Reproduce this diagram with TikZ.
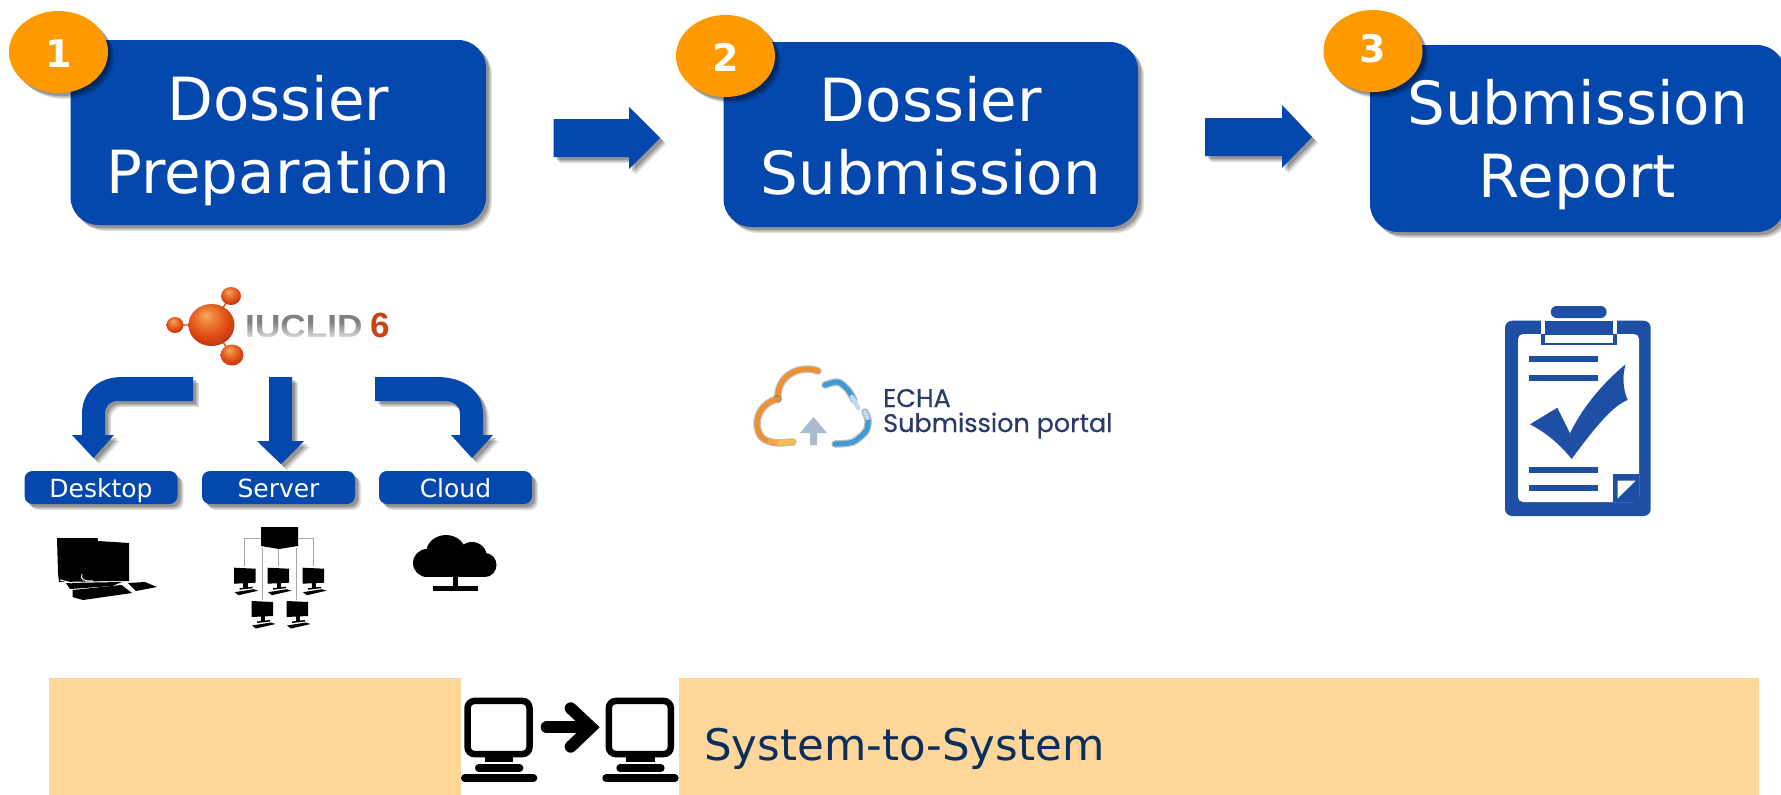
\documentclass[tikz,border=0pt]{standalone}
\usepackage{fontspec}
\setmainfont{DejaVu Sans}
\newfontfamily\logofont{Liberation Sans}
\newfontfamily\echafont[FakeBold=0.4]{Poppins}
\usetikzlibrary{shapes.geometric,shadows,fadings}
\definecolor{echablue}{HTML}{0447AD}
\definecolor{badge}{HTML}{FF9900}
\definecolor{bandcol}{HTML}{FFD699}
\definecolor{navy}{HTML}{0A2F5C}
\definecolor{clipblue}{HTML}{1E4FA4}
\definecolor{portaltext}{HTML}{2B3A6B}
\definecolor{cloudorange}{HTML}{F08F2E}
\definecolor{cloudyellow}{HTML}{F7BE4E}
\definecolor{cloudblue}{HTML}{3E9BD8}
\definecolor{cloudpale}{HTML}{BBDCF2}
\definecolor{cloudarrow}{HTML}{A9BBCF}
\definecolor{orbA}{HTML}{F5A868}
\definecolor{orbB}{HTML}{EC7A30}
\definecolor{orbC}{HTML}{DC4A14}
\definecolor{orbD}{HTML}{B42A0C}
\definecolor{orbE}{HTML}{A01E08}
\definecolor{sixred}{HTML}{CC4416}
\pgfdeclareradialshading{orb}{\pgfpoint{-6bp}{12bp}}{%
  color(0bp)=(orbA);
  color(10bp)=(orbB);
  color(22bp)=(orbC);
  color(36bp)=(orbD);
  color(50bp)=(orbE);
  color(64bp)=(orbC)}
\tikzset{
  softshadow/.style={
    drop shadow={shadow xshift=6pt,shadow yshift=-6pt,opacity=.12,fill=black},
    drop shadow={shadow xshift=4.5pt,shadow yshift=-4.5pt,opacity=.16,fill=black},
    drop shadow={shadow xshift=3pt,shadow yshift=-3pt,opacity=.2,fill=black}},
  stagebox/.style={draw=none,fill=echablue,text=white,rounded corners=28pt,inner sep=0pt,outer sep=0pt,
    align=center,font=\fontsize{59.5}{73}\selectfont,softshadow},
  smallbox/.style={draw=none,fill=echablue,text=white,rounded corners=8pt,inner sep=0pt,outer sep=0pt,
    minimum width=153pt,minimum height=33pt,text height=24pt,text depth=5pt,font=\fontsize{25}{30}\selectfont,softshadow},
  numbadge/.style={ellipse,draw=none,fill=badge,text=white,inner sep=0pt,outer sep=0pt,
    minimum width=99pt,minimum height=82pt,softshadow},
  numtext/.style={text=white,inner sep=0pt,font=\fontsize{38}{38}\selectfont\bfseries},
  blockarrow/.style={fill=echablue,draw=none,softshadow},
  sphere/.style={ellipse,draw=none,shading=orb,inner sep=0pt,outer sep=0pt},
  pcicon/.style={draw=black,line width=6.5pt,fill=white,rounded corners=7pt},
  pill/.style={draw=black,line width=7.5pt,line cap=round},
  clipfill/.style={fill=clipblue,draw=none},
  whitefill/.style={fill=white,draw=none},
  minipc/.pic={
    \fill[black] (-10.5,0) -- (11,1) -- (11,15) -- (-10.5,16) -- cycle;
    \fill[black] (-1.5,15) rectangle (3,20);
    \fill[black] (-5,20.5) -- (8,19) -- (8,20.5) -- (-5,22) -- cycle;
    \fill[black] (-10,24.5) -- (9,21.5) -- (13.5,23) -- (-6,27.5) -- cycle;
  },
  deskpc/.pic={
    \draw[pcicon] (3.25,3.25) rectangle (65.2,56.35);
    \fill[black] (20.7,59) rectangle (49,64.5);
    \draw[pill] (14.45,70.3) -- (55.25,70.3);
    \draw[pill] (0.45,80.45) -- (69.25,80.45);
  }
}
\begin{document}
\begin{tikzpicture}[x=1pt,y=-1pt]
\useasboundingbox (0,0) rectangle (1781,795);
\clip (0,0) rectangle (1781,795);
\fill[white] (0,0) rectangle (1781,795);

% stage boxes
\node[stagebox,minimum width=415.5pt,minimum height=185pt] (prep) at (278.25,132.5) {\rule{0pt}{62pt}Dossier\\Preparation};
\node[stagebox,minimum width=414.5pt,minimum height=185pt] (subm) at (930.75,134.5) {\rule{0pt}{47pt}Dossier\\Submission};
\node[stagebox,minimum width=415pt,minimum height=187pt] (rep) at (1577.5,138.5) {\rule{0pt}{58pt}Submission\\Report};

% numbered badges
\node[numbadge] (b1) at (58.5,52) {};
\node[numbadge] (b2) at (725.5,56) {};
\node[numbadge] (b3) at (1373,51) {};
\node[numtext] (n1) at (59,54) {1};
\node[numtext] (n2) at (726,57) {2};
\node[numtext] (n3) at (1373,49) {3};

% block arrows between stages
\path[blockarrow] (553.5,119) -- (629,119) -- (629,107) -- (660,138) -- (629,169) -- (629,157) -- (553.5,157) -- cycle;
\path[blockarrow] (1205,118) -- (1282,118) -- (1282,105) -- (1312,137) -- (1282,168) -- (1282,156) -- (1205,156) -- cycle;

% IUCLID logo
\draw[orbC,line width=1.4pt] (175,325) -- (211,325) (231,296) -- (211,325) -- (232,355);
\node[sphere,minimum width=46pt,minimum height=42pt] (orb0) at (211.5,325) {};
\node[sphere,minimum width=20pt,minimum height=18pt] (orb1) at (231,296) {};
\node[sphere,minimum width=17pt,minimum height=16pt] (orb2) at (175,325) {};
\node[sphere,minimum width=23pt,minimum height=21pt] (orb3) at (232,355) {};
\node[anchor=base west,inner sep=0pt,text=gray,font=\logofont\bfseries\fontsize{32}{32}\selectfont,xscale=1.1] (iuclid) at (245,337) {IUCLID};
\fill[white,opacity=.75,path fading=north] (244,322) rectangle (366,338);
\node[anchor=base west,inner sep=0pt,text=sixred,font=\logofont\bfseries\fontsize{35}{35}\selectfont] (six) at (370.5,337.5) {6};

% deployment arrows
\path[blockarrow] (193,377) -- (122,377) .. controls (98,377) and (82,392) .. (82,414) -- (82,435) -- (72,435) -- (93.5,458) -- (114,435) -- (105,435) -- (105,414) .. controls (105,406) and (110,401) .. (118,401) -- (193,401) -- cycle;
\path[blockarrow] (269,377) -- (292,377) -- (292,441) -- (304,441) -- (281,464) -- (257,441) -- (269,441) -- cycle;
\path[blockarrow] (375,377) -- (437,377) .. controls (465,377) and (483,392) .. (483,414) -- (483,435) -- (493,435) -- (472,458) -- (451,435) -- (460,435) -- (460,414) .. controls (460,406) and (454,401) .. (445,401) -- (375,401) -- cycle;

% deployment labels
\node[smallbox] (desk) at (101,487.5) {Desktop};
\node[smallbox] (serv) at (278.5,487.5) {Server};
\node[smallbox] (clou) at (455.5,487.5) {Cloud};

% desktop icon
\fill[black] (57,538) -- (97.5,538) -- (98,541) -- (129,543) -- (129,581) -- (112,581) -- (59,582) -- (58,573) -- cycle;
\fill[black] (72.5,590) -- (121.5,585) -- (132,593) -- (83,600) -- (72.5,597) -- cycle;
\fill[black] (128,583) -- (145,582) -- (157,587) -- (136,591) -- cycle;
\fill[black] (66,583) -- (122,582) -- (112,586) -- (70,589) -- cycle;
\draw[white,line width=1pt] (60,580) -- (72,583) (82,574) .. controls (80,580) and (84,581) .. (93,581);

% server icon
\draw[gray!70,line width=1pt] (261,538) -- (244,538) -- (244,566) (298,538) -- (313.5,538) -- (313.5,566)
  (278,548) -- (278,566) (262,548) -- (262,600) (296.5,548) -- (296.5,600);
\fill[black] (261,527) -- (298,527) -- (298,546) -- (279,549) -- (261,546) -- cycle;
\pic at (244.6,567.7) {minipc};
\pic at (278,567.7) {minipc};
\pic at (313,567.7) {minipc};
\pic at (262,601) {minipc};
\pic at (297,601) {minipc};

% cloud icon
\fill[black] (427,563) circle [x radius=14,y radius=14];
\fill[black] (446,553) circle [x radius=20,y radius=18];
\fill[black] (472,557) circle [x radius=15,y radius=15];
\fill[black] (485,565) circle [x radius=11.5,y radius=12];
\fill[black] (427,560) rectangle (486,577);
\fill[black] (453,575) rectangle (458,587);
\fill[black] (433,586) rectangle (478,591);

% ECHA portal logo
\begin{scope}[line cap=round,line join=round]
\draw[cloudorange,line width=5pt,preaction={draw,line width=7.5pt,opacity=.25}]
  (818,371) .. controls (800,364) and (776,376) .. (778,399);
\draw[cloudorange,line width=5pt,preaction={draw,line width=7.5pt,opacity=.25}]
  (778,399) .. controls (762,402) and (754,418) .. (758,430) .. controls (760,440) and (770,443) .. (780,443) -- (793,442);
\draw[cloudorange!50!cloudyellow,line width=5pt,line cap=butt] (768,441.3) -- (780,443);
\draw[cloudyellow,line width=5pt] (780,443) -- (793,442);
\draw[cloudblue,line width=5pt,preaction={draw,line width=7.5pt,opacity=.25}]
  plot[smooth] coordinates {(825,385) (838,382) (848,390) (854,400)};
\draw[cloudpale,line width=4.5pt]
  plot[smooth] coordinates {(852,397) (855,402) (858,408)};
\draw[cloudblue,line width=5pt,preaction={draw,line width=7.5pt,opacity=.25}]
  plot[smooth] coordinates {(865,412) (868,420) (866,431) (853,442) (835,444)};
\draw[cloudpale,line width=4.5pt]
  (865,412) -- (867.5,418);
\end{scope}
\fill[cloudarrow] (813.5,417) -- (827,433) -- (817,433) -- (817,445) -- (810,445) -- (810,433) -- (800,433) -- cycle;
\node[anchor=base west,inner sep=0pt,text=portaltext,font=\echafont\fontsize{25.5}{26}\selectfont] (echa) at (883,407) {ECHA};
\node[anchor=base west,inner sep=0pt,text=portaltext,font=\echafont\fontsize{25.5}{26}\selectfont] (portal) at (883,432) {Submission portal};

% clipboard
\path[clipfill,rounded corners=7pt] (1505,320.7) rectangle (1650.7,516);
\path[whitefill,rounded corners=5pt] (1518,334) rectangle (1639,502);
\path[clipfill,rounded corners=6pt] (1550.7,306) rectangle (1606.7,318);
\path[whitefill] (1541,320) rectangle (1617,334);
\path[clipfill] (1545,320.7) rectangle (1613,334);
\path[clipfill] (1541,334) rectangle (1617,345);
\path[whitefill] (1545,334.5) rectangle (1613,343);
\path[clipfill] (1529,356) rectangle (1598,362.3);
\path[clipfill] (1529,375) rectangle (1598,381.3);
\path[clipfill] (1529,467) rectangle (1597.5,473.3);
\path[clipfill] (1529,484.7) rectangle (1598,491.3);
\path[clipfill] (1530,424.3) -- (1557.3,407.7) -- (1570,433.3) .. controls (1580,412) and (1600,385) .. (1625.7,364.3)
  .. controls (1622,375) and (1623,390) .. (1627.7,400) .. controls (1615,405) and (1600,420) .. (1571.7,459)
  .. controls (1562,447) and (1550,435) .. cycle;
\path[clipfill] (1612.7,474.3) rectangle (1639,502);
\path[whitefill] (1617.7,480.7) -- (1635.7,480.7) -- (1617.7,498.3) -- cycle;

% system-to-system band
\path[fill=bandcol] (49,678) rectangle (461,795);
\path[fill=bandcol] (679,678) rectangle (1759,795);
\pic at (464.3,697.7) {deskpc};
\pic at (605.6,697.7) {deskpc};
\draw[black,line width=12pt,line cap=round] (546.7,727.3) -- (585,727.3);
\draw[black,line width=12pt,line cap=round,line join=miter] (570.7,708.3) -- (591,727.3) -- (570.7,746.7);
\node[anchor=base west,inner sep=0pt,text=navy,font=\fontsize{43.5}{44}\selectfont] (s2s) at (704,760) {System-to-System};
\end{tikzpicture}
\end{document}
